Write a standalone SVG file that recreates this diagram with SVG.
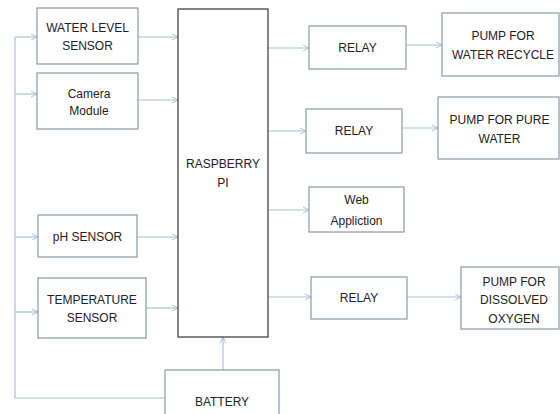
<svg xmlns="http://www.w3.org/2000/svg" width="560" height="414" viewBox="0 0 560 414">
<style>
.box{fill:#fff;stroke:#8a9aa8;stroke-width:1.2}
.pi{fill:#fff;stroke:#444;stroke-width:1.3}
.t{font-family:"Liberation Sans",Arial,sans-serif;font-size:12px;fill:#222;text-anchor:middle}
.c{fill:none;stroke:#a9c2d6;stroke-width:1.2}
</style>
<defs>
<marker id="a" viewBox="0 0 8 8" refX="7" refY="4" markerWidth="8" markerHeight="8" markerUnits="userSpaceOnUse" orient="auto">
<path d="M1,1 L7,4 L1,7" fill="none" stroke="#a9c2d6" stroke-width="1"/>
</marker>
</defs>
<rect width="560" height="414" fill="#fff"/>
<g id="connectors">
<path class="c" d="M15,37 V398 H165"/>
<path class="c" d="M15,37 H37" marker-end="url(#a)"/>
<path class="c" d="M15,94 H37" marker-end="url(#a)"/>
<path class="c" d="M15,237 H38" marker-end="url(#a)"/>
<path class="c" d="M15,312 H38" marker-end="url(#a)"/>
<path class="c" d="M138,37 H178" marker-end="url(#a)"/>
<path class="c" d="M138,100 H178" marker-end="url(#a)"/>
<path class="c" d="M137,237 H178" marker-end="url(#a)"/>
<path class="c" d="M146,308 H178" marker-end="url(#a)"/>
<path class="c" d="M223,370 V337" marker-end="url(#a)"/>
<path class="c" d="M268,48 H309" marker-end="url(#a)"/>
<path class="c" d="M268,131 H306" marker-end="url(#a)"/>
<path class="c" d="M268,210 H309" marker-end="url(#a)"/>
<path class="c" d="M268,297 H311" marker-end="url(#a)"/>
<path class="c" d="M406,45 H442" marker-end="url(#a)"/>
<path class="c" d="M402,128 H438" marker-end="url(#a)"/>
<path class="c" d="M407,297 H461" marker-end="url(#a)"/>
</g>
<g id="water-level">
<rect class="box" x="37" y="8" width="101" height="56"/>
<text class="t" x="87.5" y="32">WATER LEVEL</text>
<text class="t" x="87.5" y="50">SENSOR</text>
</g>
<g id="camera">
<rect class="box" x="37" y="73" width="101" height="56"/>
<text class="t" x="89" y="98">Camera</text>
<text class="t" x="89" y="115">Module</text>
</g>
<g id="ph">
<rect class="box" x="38" y="215" width="99" height="42"/>
<text class="t" x="87.5" y="241">pH SENSOR</text>
</g>
<g id="temperature">
<rect class="box" x="38" y="278" width="108" height="60"/>
<text class="t" x="92" y="304">TEMPERATURE</text>
<text class="t" x="92" y="322">SENSOR</text>
</g>
<g id="raspberry-pi">
<rect class="pi" x="178" y="9" width="90" height="328"/>
<text class="t" x="223" y="168">RASPBERRY</text>
<text class="t" x="223" y="187">PI</text>
</g>
<g id="battery">
<rect class="box" x="165" y="370" width="114" height="50"/>
<text class="t" x="222" y="406">BATTERY</text>
</g>
<g id="relay1">
<rect class="box" x="309" y="26" width="97" height="43"/>
<text class="t" x="357.5" y="52">RELAY</text>
</g>
<g id="relay2">
<rect class="box" x="306" y="109" width="96" height="44"/>
<text class="t" x="354" y="135">RELAY</text>
</g>
<g id="web">
<rect class="box" x="309" y="187" width="95" height="45"/>
<text class="t" x="356.5" y="204">Web</text>
<text class="t" x="356.5" y="225">Appliction</text>
</g>
<g id="relay3">
<rect class="box" x="311" y="277" width="96" height="42"/>
<text class="t" x="359" y="302">RELAY</text>
</g>
<g id="pump-recycle">
<rect class="box" x="442" y="13" width="117" height="63"/>
<text class="t" x="503" y="40">PUMP FOR</text>
<text class="t" x="503" y="59">WATER RECYCLE</text>
</g>
<g id="pump-pure">
<rect class="box" x="438" y="97" width="121" height="62"/>
<text class="t" x="499.5" y="124">PUMP FOR PURE</text>
<text class="t" x="499.5" y="143">WATER</text>
</g>
<g id="pump-oxygen">
<rect class="box" x="461" y="267" width="98" height="62"/>
<text class="t" x="514" y="286">PUMP FOR</text>
<text class="t" x="514" y="304">DISSOLVED</text>
<text class="t" x="514" y="323">OXYGEN</text>
</g>
</svg>
